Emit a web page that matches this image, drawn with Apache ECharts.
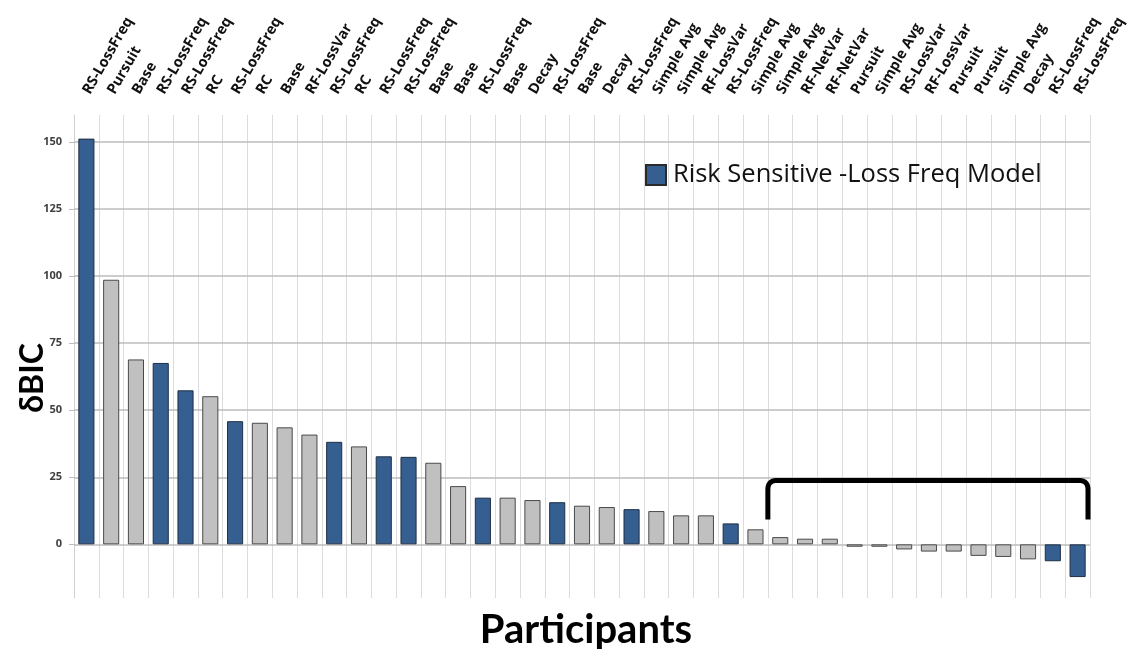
<!DOCTYPE html>
<html>
<head>
<meta charset="utf-8">
<script src="https://cdn.jsdelivr.net/npm/echarts@6/dist/echarts.min.js"></script>
<style>
html,body{margin:0;padding:0;background:#fff;}
#chart{width:1131px;height:649px;}
</style>
</head>
<body>
<div id="chart"></div>
<script>
const categories = ['RS-LossFreq','Pursuit','Base','RS-LossFreq','RS-LossFreq','RC','RS-LossFreq','RC','Base','RF-LossVar',
  'RS-LossFreq','RC','RS-LossFreq','RS-LossFreq','Base','Base','RS-LossFreq','Base','Decay','RS-LossFreq',
  'Base','Decay','RS-LossFreq','Simple Avg','Simple Avg','RF-LossVar','RS-LossFreq','Simple Avg','Simple Avg','RF-NetVar',
  'RF-NetVar','Pursuit','Simple Avg','RS-LossVar','RF-LossVar','Pursuit','Pursuit','Simple Avg','Decay','RS-LossFreq','RS-LossFreq'];
const values = [151.2, 98.6, 68.9, 67.6, 57.4, 55.2, 45.9, 45.3, 43.6, 40.9,
  38.2, 36.5, 32.8, 32.6, 30.4, 21.7, 17.4, 17.4, 16.5, 15.7,
  14.4, 13.9, 13.1, 12.4, 10.8, 10.8, 7.8, 5.6, 2.7, 2.1,
  2.1, -0.9, -0.9, -1.9, -2.7, -2.7, -4.3, -4.7, -5.6, -6.3, -12.2];
const yTicks = [0, 25, 50, 75, 100, 125, 150];
const highlightModel = 'RS-LossFreq';
const legendName = 'Risk Sensitive -Loss Freq Model';
const bracketCategories = [28, 40];
const bracketY = [9.3, 23.8];

const BLUE = '#355f91';
const GRAY = '#c0c0c0';

const chart = echarts.init(document.getElementById('chart'), null, {renderer: 'canvas'});
const titles = [
  {type: 'text', x: 33, y: 378, rotation: Math.PI / 2, style: {text: 'δBIC', fontFamily: 'Lato', fontWeight: 'bold', fontSize: 32, fill: '#000', align: 'center', verticalAlign: 'middle'}},
  {type: 'text', x: 586, y: 630, style: {text: 'Participants', fontFamily: 'Lato', fontWeight: 'bold', fontSize: 40, fill: '#000', align: 'center', verticalAlign: 'middle'}}
];
const option = {
  animation: false,
  backgroundColor: '#ffffff',
  grid: {left: 74, right: 41, top: 115, bottom: 51, containLabel: false},
  legend: {
    show: true,
    data: [legendName],
    left: 640, top: 157,
    icon: 'rect', itemWidth: 20, itemHeight: 20,
    textStyle: {fontFamily: 'Open Sans', fontSize: 25.5, color: '#111', padding: [0, 0, 0, 2]}
  },
  xAxis: {
    type: 'category',
    position: 'top',
    data: categories,
    boundaryGap: true,
    axisLine: {show: false},
    axisTick: {show: false},
    axisLabel: {interval: 0, rotate: 60, margin: 22, fontFamily: 'Open Sans', fontWeight: 'bold', fontSize: 14.5, color: '#111'},
    splitLine: {show: true, lineStyle: {color: '#dcdcdc', width: 1}}
  },
  yAxis: {
    type: 'value',
    min: -20, max: 160,
    axisLine: {show: true, lineStyle: {color: '#d0d0d0'}},
    axisTick: {show: true, length: 5, customValues: yTicks, lineStyle: {color: '#bdbdbd'}},
    axisLabel: {customValues: yTicks, margin: 12, fontFamily: 'Open Sans', fontWeight: 'bold', fontSize: 11, color: '#404040'},
    splitLine: {show: false}
  },
  series: [{
    name: legendName,
    type: 'bar',
    barWidth: '65%',
    itemStyle: {color: BLUE, borderColor: '#2a2a2a', borderWidth: 1},
    data: values.map((v, i) => ({
      value: v,
      itemStyle: {color: categories[i] === highlightModel ? BLUE : GRAY, borderColor: categories[i] === highlightModel ? '#1f2f45' : '#4a4a4a'}
    })),
    markLine: {
      silent: true, symbol: 'none', z: 1,
      label: {show: false},
      lineStyle: {color: '#bdbdbd', type: 'solid', width: 1.5},
      data: yTicks.map(t => ({yAxis: t}))
    },
    z: 3
  }],
  graphic: titles
};
chart.setOption(option);

// bracket annotation computed from axis scales
const c0 = chart.convertToPixel({xAxisIndex: 0}, bracketCategories[0]);
const c1 = chart.convertToPixel({xAxisIndex: 0}, bracketCategories[1]);
const band = chart.convertToPixel({xAxisIndex: 0}, 1) - chart.convertToPixel({xAxisIndex: 0}, 0);
const xl = c0 - band / 2, xr = c1 + band / 2 - 2;
const yb = chart.convertToPixel({yAxisIndex: 0}, bracketY[0]);
const yt = chart.convertToPixel({yAxisIndex: 0}, bracketY[1]);
const r = 9;
function quad(p0, p1, p2, n) {
  const out = [];
  for (let k = 1; k < n; k++) {
    const t = k / n;
    out.push([(1 - t) * (1 - t) * p0[0] + 2 * (1 - t) * t * p1[0] + t * t * p2[0],
              (1 - t) * (1 - t) * p0[1] + 2 * (1 - t) * t * p1[1] + t * t * p2[1]]);
  }
  return out;
}
const pts = [[xl, yb], [xl, yt + r]]
  .concat(quad([xl, yt + r], [xl, yt], [xl + r, yt], 8))
  .concat([[xl + r, yt], [xr - r, yt]])
  .concat(quad([xr - r, yt], [xr, yt], [xr, yt + r], 8))
  .concat([[xr, yt + r], [xr, yb]]);
chart.setOption({graphic: titles.concat([
  {type: 'polyline', z: 10, shape: {points: pts}, style: {fill: null, stroke: '#000', lineWidth: 5, lineJoin: 'round'}}
])});
</script>
</body>
</html>
